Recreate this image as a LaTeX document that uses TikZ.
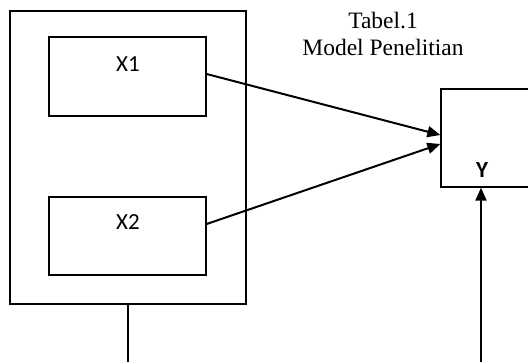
\documentclass[tikz,border=0pt]{standalone}
\usepackage{fontspec}
\setmainfont{Liberation Serif}
\newfontfamily\calib{Carlito}
\usetikzlibrary{arrows.meta,calc}
\begin{document}
\begin{tikzpicture}[x=1pt,y=-1pt,
  boxstyle/.style={draw=black,line width=1.3pt,rectangle,inner sep=0pt,minimum width=#1},
  arr/.style={line width=2pt,-{Triangle[length=13pt,width=11pt]}},
  plain/.style={line width=1.3pt},
  lbl/.style={font=\calib\fontsize{23}{25}\selectfont,inner sep=0pt,anchor=base}]
\useasboundingbox[fill=white] (0,0) rectangle (528,362);
\node[boxstyle=236pt,minimum height=293pt] (outer) at (128,157.5) {};
\node[boxstyle=157pt,minimum height=79pt] (X1) at (127.5,76.5) {};
\node[boxstyle=157pt,minimum height=78pt] (X2) at (127.5,236) {};
\node[boxstyle=92pt,minimum height=98pt] (Y) at (487,138) {};
\node[lbl] (t1) at (128,71) {X1};
\node[lbl] (t2) at (128,229) {X2};
\node[lbl,font=\calib\bfseries\fontsize{23}{25}\selectfont] (ty) at (482,177) {Y};
\node[inner sep=0pt,anchor=base,font=\fontsize{23.5}{26}\selectfont] (title1) at (383,28) {Tabel.1};
\node[inner sep=0pt,anchor=base,font=\fontsize{23.5}{26}\selectfont] (title2) at (383,55) {Model Penelitian};
\draw[arr] ($(X1.east)+(0,-2.5)$) -- ($(Y.west)+(0,-3)$);
\draw[arr] ($(X2.east)+(0,-12)$) -- ($(Y.west)+(0,6)$);
\coordinate (b1) at (128,362);
\coordinate (b2) at (481,362);
\draw[plain] (outer.south) -- (b1);
\draw[arr] (b2) -- (b2 |- Y.south);
\end{tikzpicture}
\end{document}
